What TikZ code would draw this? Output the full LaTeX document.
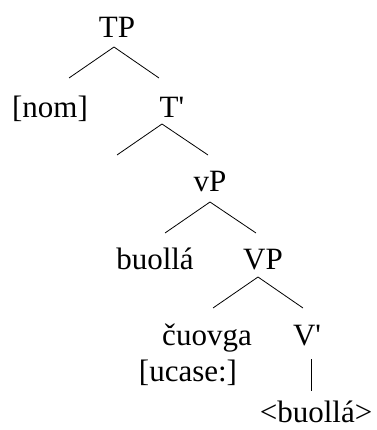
\documentclass[tikz,border=0pt]{standalone}
\usepackage{fontspec}
\setmainfont{Liberation Serif}[Ligatures=TeXOff]
\begin{document}
\begin{tikzpicture}[x=1pt,y=-1pt,
  lbl/.style={anchor=base,inner sep=0pt,font=\fontsize{31}{36}\selectfont},
  edge/.style={line width=0.8pt}]
\useasboundingbox (0,0) rectangle (376,430);
% nodes
\node[lbl] (TP) at (117,38) {TP};
\node[lbl] (nom) at (50,118) {[nom]};
\node[lbl] (Tbar) at (172,118) {T'};
\node[lbl] (vP) at (210,192) {vP};
\node[lbl] (buolla) at (155,269) {buollá};
\node[lbl] (VP) at (263,269) {VP};
\node[lbl] (cuovga) at (207,345) {čuovga};
\node[lbl] (ucase) at (188,381) {[ucase:]};
\node[lbl] (Vbar) at (307,345) {V'};
\node[lbl] (trace) at (316,422) {<buollá>};
% connector ends
\coordinate (TPa) at (114,47);
\coordinate (TPl) at (69,78);
\coordinate (TPr) at (159,78);
\coordinate (Ta) at (162,124);
\coordinate (Tl) at (117,155);
\coordinate (Tr) at (208,155);
\coordinate (vPa) at (210,202);
\coordinate (vPl) at (165,233);
\coordinate (vPr) at (256,233);
\coordinate (VPa) at (258,277);
\coordinate (VPl) at (213,308);
\coordinate (VPr) at (303,308);
\coordinate (Vt) at (311,359);
\coordinate (Vb) at (311,391);
% connectors
\draw[edge] (TPl) -- (TPa) -- (TPr);
\draw[edge] (Tl) -- (Ta) -- (Tr);
\draw[edge] (vPl) -- (vPa) -- (vPr);
\draw[edge] (VPl) -- (VPa) -- (VPr);
\draw[edge] (Vt) -- (Vb);
\end{tikzpicture}
\end{document}
